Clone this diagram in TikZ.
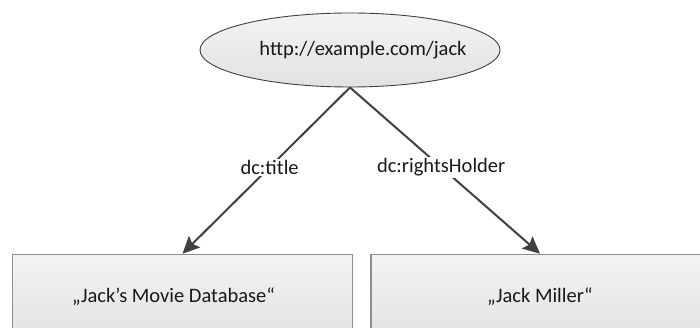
\documentclass[tikz,border=0pt]{standalone}
\usepackage{fontspec}
\setmainfont{Carlito}
\usetikzlibrary{shapes.geometric,arrows.meta}
\definecolor{edgegray}{HTML}{404040}
\definecolor{boxborder}{HTML}{8E8E8E}
\definecolor{filltop}{HTML}{F3F3F3}
\definecolor{fillbot}{HTML}{E2E2E2}
\tikzset{
  resource/.style={ellipse, draw=edgegray, line width=0.9pt,
    top color=filltop, bottom color=fillbot,
    minimum width=300pt, minimum height=74pt, inner sep=0pt},
  literal/.style={rectangle, draw=boxborder, line width=1.6pt,
    top color=filltop, bottom color=fillbot, inner sep=0pt},
  txt/.style={font=\fontsize{20.5}{24}\selectfont, text=black!90},
  prop/.style={txt, fill=white, inner sep=1.5pt},
  link/.style={draw=edgegray, line width=2pt,
    -{Stealth[length=17pt, width=16pt, inset=3pt]}}
}
\begin{document}
\begin{tikzpicture}[x=1pt, y=-1pt]
  \useasboundingbox (0,0) rectangle (700,328);
  \clip (0,0) rectangle (700,328);
  \fill[white] (0,0) rectangle (700,328);

  % subject
  \node[resource] (jack) at (350,50) {};
  \node[txt] (jackuri) at (363,50) {http://example.com/jack};

  % objects
  \node[literal, minimum width=340pt, minimum height=86pt] (db) at (182.5,297.5) {};
  \node[txt] (dbtext) at (173.5,297) {„Jack’s Movie Database“};
  \node[literal, minimum width=338pt, minimum height=86pt] (miller) at (540,297.5) {};
  \node[txt] (millertext) at (540,297) {„Jack Miller“};

  % predicates
  \draw[link] (jack.south) -- (db.north)
    node[prop, pos=0.48] (titlelbl) {dc:title};
  \draw[link] (jack.south) -- (miller.north)
    node[prop, pos=0.48] (holderlbl) {dc:rightsHolder};
\end{tikzpicture}
\end{document}
